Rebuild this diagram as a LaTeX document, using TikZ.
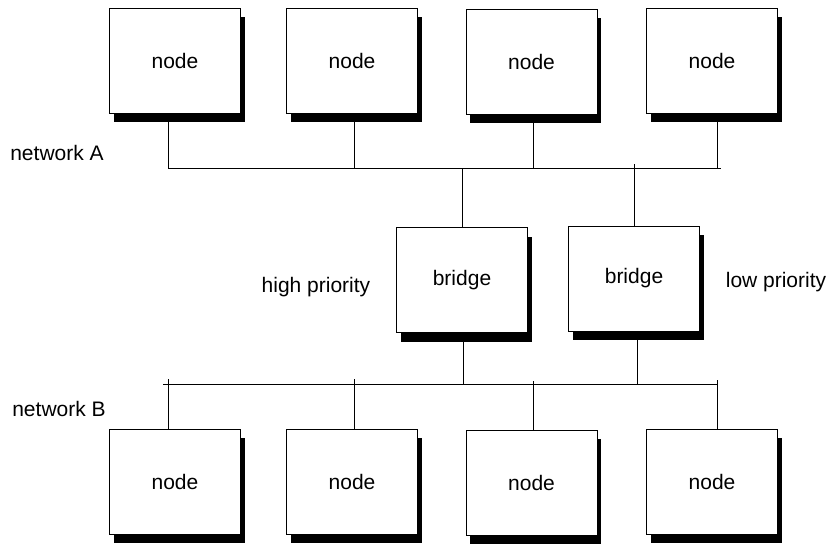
\documentclass[tikz,border=0pt]{standalone}
\usepackage{fontspec}
\setmainfont{Liberation Sans}
\usetikzlibrary{shadows}

\tikzset{
  box/.style={draw, fill=white, line width=0.5pt, inner sep=0pt,
    minimum width=65.5pt, minimum height=52.5pt,
    general shadow={fill=black, shadow xshift=2pt, shadow yshift=-4.5pt}},
  linea/.style={line width=0.5pt},
}

\begin{document}
\begin{tikzpicture}[x=0.5pt, y=-0.5pt, font=\fontsize{10.5}{12}\selectfont]
    \useasboundingbox (0,0) rectangle (833,543);

    % punti sui bus
    \coordinate (ta1) at (168,168);
    \coordinate (ta2) at (354,168);
    \coordinate (ta3) at (533,168);
    \coordinate (ta4) at (717,168);
    \coordinate (tafine) at (721,168);
    \coordinate (tp1) at (462,168);
    \coordinate (tp2) at (634,164);

    \coordinate (tbinizio) at (163,384);
    \coordinate (tbfine) at (718,384);
    \coordinate (tb1) at (168,379);
    \coordinate (tb2) at (354,379);
    \coordinate (tb3) at (533,381);
    \coordinate (tb4) at (717,380);
    \coordinate (tq1) at (463,385);
    \coordinate (tq2) at (637,385);

    % bus A e bus B
    \draw[linea] (ta1) -- (tafine);
    \draw[linea] (tbinizio) -- (tbfine);

    % nodi della rete A
    \node[box] (a1) at (175,60.5) {node};
    \node[box] (a2) at (352,60.5) {node};
    \node[box] (a3) at (531.5,61.5) {node};
    \node[box] (a4) at (712,60.5) {node};

    % ponti
    \node[box] (p1) at (462,280) {bridge};
    \node[box] (p2) at (634,278.5) {bridge};

    % nodi della rete B
    \node[box] (b1) at (175,481.5) {node};
    \node[box] (b2) at (352,481.5) {node};
    \node[box] (b3) at (531.5,482.5) {node};
    \node[box] (b4) at (712,481.5) {node};

    % discese rete A
    \draw[linea] (a1.south -| ta1) -- (ta1);
    \draw[linea] (a2.south -| ta2) -- (ta2);
    \draw[linea] (a3.south -| ta3) -- (ta3);
    \draw[linea] (a4.south -| ta4) -- (ta4);

    % collegamenti dei ponti
    \draw[linea] (tp1) -- (p1.north -| tp1);
    \draw[linea] (tp2) -- (p2.north -| tp2);
    \draw[linea] (p1.south -| tq1) -- (tq1);
    \draw[linea] (p2.south -| tq2) -- (tq2);

    % discese rete B
    \draw[linea] (tb1) -- (b1.north -| tb1);
    \draw[linea] (tb2) -- (b2.north -| tb2);
    \draw[linea] (tb3) -- (b3.north -| tb3);
    \draw[linea] (tb4) -- (b4.north -| tb4);

    % etichette
    \node (retea) at (57,153) {network A};
    \node (reteb) at (59,409) {network B};
    \node (alta) at (316,287) {high priority};
    \node (bassa) at (776,282) {low priority};
\end{tikzpicture}
\end{document}
